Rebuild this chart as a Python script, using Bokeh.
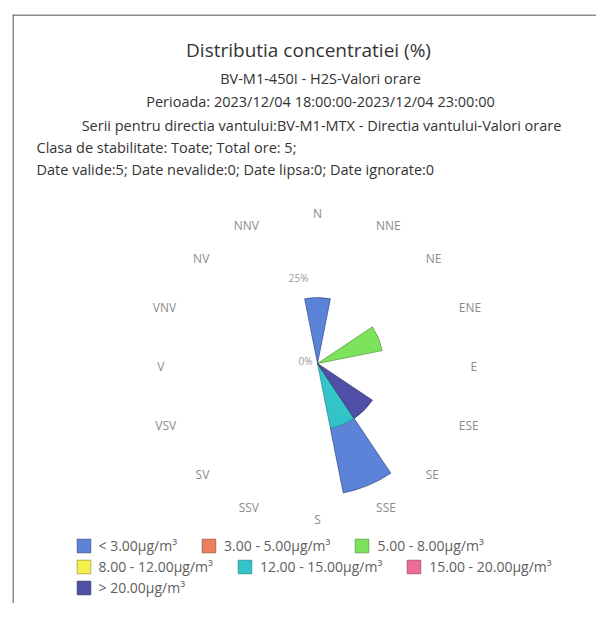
import math
from bokeh.plotting import figure
from bokeh.models import ColumnDataSource, Range1d, Span, Legend, LegendItem
from bokeh.core.properties import value
from bokeh.embed import file_html
from bokeh.resources import INLINE

# ---------------- data ----------------
directions = ["N", "NNE", "NE", "ENE", "E", "ESE", "SE", "SSE",
              "S", "SSV", "SV", "VSV", "V", "VNV", "NV", "NNV"]

class_labels = ["< 3.00µg/m³", "3.00 - 5.00µg/m³", "5.00 - 8.00µg/m³",
                "8.00 - 12.00µg/m³", "12.00 - 15.00µg/m³", "15.00 - 20.00µg/m³",
                "> 20.00µg/m³"]

#            N  NNE NE ENE E ESE SE SSE S SSV SV VSV V VNV NV NNV
pct_lt3   = [20, 0, 0, 0, 0, 0, 0, 20, 0, 0, 0, 0, 0, 0, 0, 0]
pct_3_5   = [0, 0, 0, 0, 0, 0, 0, 0, 0, 0, 0, 0, 0, 0, 0, 0]
pct_5_8   = [0, 0, 0, 20, 0, 0, 0, 0, 0, 0, 0, 0, 0, 0, 0, 0]
pct_8_12  = [0, 0, 0, 0, 0, 0, 0, 0, 0, 0, 0, 0, 0, 0, 0, 0]
pct_12_15 = [0, 0, 0, 0, 0, 0, 0, 20, 0, 0, 0, 0, 0, 0, 0, 0]
pct_15_20 = [0, 0, 0, 0, 0, 0, 0, 0, 0, 0, 0, 0, 0, 0, 0, 0]
pct_gt20  = [0, 0, 0, 0, 0, 0, 20, 0, 0, 0, 0, 0, 0, 0, 0, 0]

series = [pct_lt3, pct_3_5, pct_5_8, pct_8_12, pct_12_15, pct_15_20, pct_gt20]

radial_ticks = [0, 25]
radial_tick_labels = ["0%", "25%"]

title = "Distributia concentratiei (%)"
subtitles_center = ["BV-M1-450I - H2S-Valori orare",
                    "Perioada: 2023/12/04 18:00:00-2023/12/04 23:00:00",
                    "Serii pentru directia vantului:BV-M1-MTX - Directia vantului-Valori orare"]
subtitles_left = ["Clasa de stabilitate: Toate; Total ore: 5;",
                  "Date valide:5; Date nevalide:0; Date lipsa:0; Date ignorate:0"]

# ---------------- style ----------------
fill_colors = ["#5b84d8", "#ec7f5e", "#7ee35c", "#f4ef4a", "#33c4c9", "#ef6d95", "#5050a8"]
line_colors = ["#2d3f78", "#8a4530", "#4c8a35", "#8f8a2a", "#1f7a7e", "#8a3d55", "#24244f"]
FONT = value("Open Sans")

W, H = 584, 589          # plot frame size in px (data units == px)
CX, CY = 305, 240        # rose centre
K = 3.3                  # px per percent
LABEL_R = 153

p = figure(width=596, height=603, output_backend="svg", toolbar_location=None,
           x_range=Range1d(0, W), y_range=Range1d(0, H),
           x_axis_location=None, y_axis_location=None,
           min_border_left=12, min_border_top=14, min_border_right=0, min_border_bottom=0,
           outline_line_color=None, background_fill_color="white",
           border_fill_color="white")
p.grid.visible = False

# frame border (left and top)
p.add_layout(Span(location=0.5, dimension="height", line_color="#666666", line_width=1.5))
p.add_layout(Span(location=H - 0.5, dimension="width", line_color="#666666", line_width=1.5))

# ---------------- titles ----------------
p.text(x=[296], y=[554], text=[title], text_font=FONT, text_font_size=value("19px"),
       text_color="#333333", text_align="center", text_baseline="middle")
p.text(x=[308, 308, 309], y=[525, 502, 478], text=subtitles_center, text_font=FONT,
       text_font_size=value("14.5px"), text_color="#333333",
       text_align="center", text_baseline="middle")
p.text(x=[24, 24], y=[456, 434], text=subtitles_left, text_font=FONT,
       text_font_size=value("14.5px"), text_color="#333333",
       text_align="left", text_baseline="middle")

# ---------------- wind rose ----------------
n = len(directions)
bearings = [i * 360.0 / n for i in range(n)]
half = 360.0 / n / 2

renderers = []
for si, vals in enumerate(series):
    xs, ys, r0, r1, a0, a1 = [], [], [], [], [], []
    for di, v in enumerate(vals):
        base = sum(series[sj][di] for sj in range(si + 1, len(series)))
        b = bearings[di]
        xs.append(CX); ys.append(CY)
        if v > 0:
            r0.append(base * K); r1.append((base + v) * K)
        else:
            r0.append(0); r1.append(0)
        a0.append(math.radians(90 - b - half)); a1.append(math.radians(90 - b + half))
    src = ColumnDataSource(dict(x=xs, y=ys, r0=r0, r1=r1, a0=a0, a1=a1))
    r = p.annular_wedge(x="x", y="y", inner_radius="r0", outer_radius="r1",
                        start_angle="a0", end_angle="a1", source=src,
                        fill_color=fill_colors[si], line_color=line_colors[si],
                        line_width=0.8, line_alpha=0.8)
    renderers.append(r)

# direction labels
groups = {"left": ([], [], []), "right": ([], [], []), "center": ([], [], [])}
for d, b in zip(directions, bearings):
    rad = math.radians(b)
    x = CX + math.sin(rad) * LABEL_R
    y = CY + math.cos(rad) * LABEL_R - 3
    if b in (0, 180):
        key = "center"
    elif b < 180:
        key = "left"
    else:
        key = "right"
    groups[key][0].append(x); groups[key][1].append(y); groups[key][2].append(d)
for key, (gx, gy, gt) in groups.items():
    p.text(x=gx, y=gy, text=gt, text_font=FONT, text_font_size=value("12px"),
           text_color="#8c8c8c", text_align=key, text_baseline="middle")

# radial tick labels
p.text(x=[CX - 5 - 4 * (t > 0) for t in radial_ticks],
       y=[CY + t * K + 3 for t in radial_ticks], text=radial_tick_labels,
       text_font=FONT, text_font_size=value("10px"), text_color="#9a9a9a",
       text_align="right", text_baseline="middle")

# ---------------- legend (three flowing rows) ----------------
rows = [[0, 1, 2], [3, 4, 5], [6]]
row_y = [48.5, 27.5, 6.5]
for idxs, ly in zip(rows, row_y):
    items = [LegendItem(label=class_labels[i], renderers=[renderers[i]]) for i in idxs]
    leg = Legend(items=items, orientation="horizontal", location=(62.5, ly),
                 border_line_color=None, background_fill_alpha=0,
                 padding=0, margin=0, spacing=23,
                 glyph_width=17, glyph_height=17, label_standoff=7,
                 label_height=17, label_text_font="Open Sans",
                 label_text_font_size="14px", label_text_color="#606060")
    p.add_layout(leg, "center")

open("out.html", "w").write(file_html(p, INLINE))
